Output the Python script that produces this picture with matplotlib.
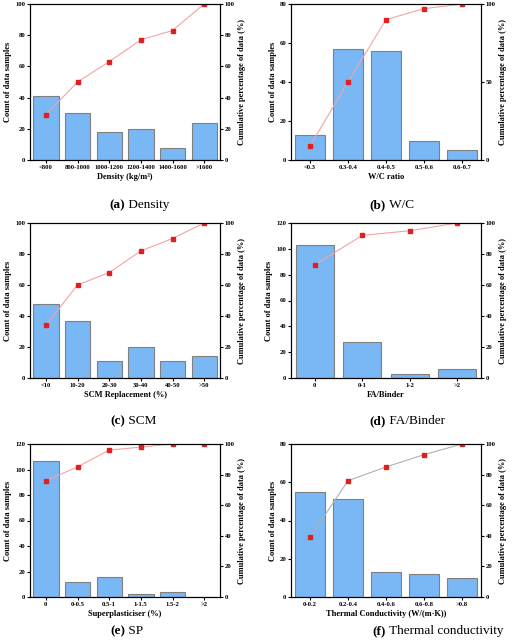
import matplotlib.pyplot as plt

plt.rcParams['font.family'] = ['Liberation Serif', 'DejaVu Serif']
plt.rcParams['font.weight'] = 'bold'

# panel data
density_labels = ['<800', '800-1000', '1000-1200', '1200-1400', '1400-1600', '>1600']
density_counts = [41, 30, 18, 20, 8, 24]
density_cum = [29, 50, 63, 77, 83, 100]

wc_labels = ['<0.3', '0.3-0.4', '0.4-0.5', '0.5-0.6', '0.6-0.7']
wc_counts = [13, 57, 56, 10, 5]
wc_cum = [9, 50, 90, 97, 100]

scm_labels = ['<10', '10-20', '20-30', '30-40', '40-50', '>50']
scm_counts = [48, 37, 11, 20, 11, 14]
scm_cum = [34, 60, 68, 82, 90, 100]

fa_labels = ['0', '0-1', '1-2', '>2']
fa_counts = [103, 28, 3, 7]
fa_cum = [73, 92, 95, 100]

sp_labels = ['0', '0-0.5', '0.5-1', '1-1.5', '1.5-2', '>2']
sp_counts = [107, 12, 16, 2, 4, 0]
sp_cum = [76, 85, 96, 98, 100, 100]

tc_labels = ['0-0.2', '0.2-0.4', '0.4-0.6', '0.6-0.8', '>0.8']
tc_counts = [55, 51, 13, 12, 10]
tc_cum = [39, 76, 85, 93, 100]

panels = [
    (density_labels, density_counts, density_cum, 'Density (kg/m³)', '(a)', ' Density', 100, [0, 20, 40, 60, 80, 100], '#f4a3a3'),
    (wc_labels, wc_counts, wc_cum, 'W/C ratio', '(b)', ' W/C', 80, [0, 50, 100], '#f4a3a3'),
    (scm_labels, scm_counts, scm_cum, 'SCM Replacement (%)', '(c)', ' SCM', 100, [0, 20, 40, 60, 80, 100], '#f4a3a3'),
    (fa_labels, fa_counts, fa_cum, 'FA/Binder', '(d)', ' FA/Binder', 120, [0, 20, 40, 60, 80, 100], '#f4a3a3'),
    (sp_labels, sp_counts, sp_cum, 'Superplasticiser (%)', '(e)', ' SP', 120, [0, 20, 40, 60, 80, 100], '#f4a3a3'),
    (tc_labels, tc_counts, tc_cum, 'Thermal Conductivity (W/(m·K))', '(f)', ' Thermal conductivity', 80, [0, 20, 40, 60, 80, 100], '#b0b0b0'),
]

W, H = 520, 643
fig = plt.figure(figsize=(5.2, 6.43), dpi=100)

xs = [30, 291]
rows = [(4, 160, 205), (223, 378, 421), (444, 597, 631)]
aw = 190

for i, (labels, counts, cum, xlabel, tag, name, ymax, rticks, lc) in enumerate(panels):
    r, c = divmod(i, 2)
    top, bot, cap = rows[r]
    ax = fig.add_axes([xs[c] / W, 1 - bot / H, aw / W, (bot - top) / H])
    x = list(range(len(labels)))
    ax.bar(x, counts, width=0.8, color='#7ab8f5', edgecolor='#808080', linewidth=0.8)
    ax.set_ylim(0, ymax)
    ax.set_yticks(range(0, ymax + 1, 20))
    ax.set_xticks(x)
    ax.set_xticklabels(labels)
    ax.tick_params(labelsize=4.8, length=2, pad=1.5)
    ax.set_xlim(-0.5, len(labels) - 0.5)
    ax.set_xlabel(xlabel, fontsize=6, fontweight='bold', labelpad=2)
    ax.set_ylabel('Count of data samples', fontsize=6, fontweight='bold', labelpad=2)
    ax2 = ax.twinx()
    ax2.plot(x, cum, color=lc, linewidth=0.8, marker='s', markersize=3,
             markerfacecolor='#e02020', markeredgecolor='#e02020')
    ax2.set_ylim(0, 100)
    ax2.set_yticks(rticks)
    ax2.tick_params(labelsize=4.8, length=2, pad=1.5)
    ax2.set_ylabel('Cumulative percentage of data (%)', fontsize=6, fontweight='bold', labelpad=2)
    cx = (xs[c] + aw / 2) / W
    fig.text(cx, 1 - cap / H, tag, ha='right', va='center', fontsize=9.5, fontweight='bold')
    fig.text(cx, 1 - cap / H, name, ha='left', va='center', fontsize=9.5, fontweight='normal')

fig.savefig('out.png', dpi=100)
